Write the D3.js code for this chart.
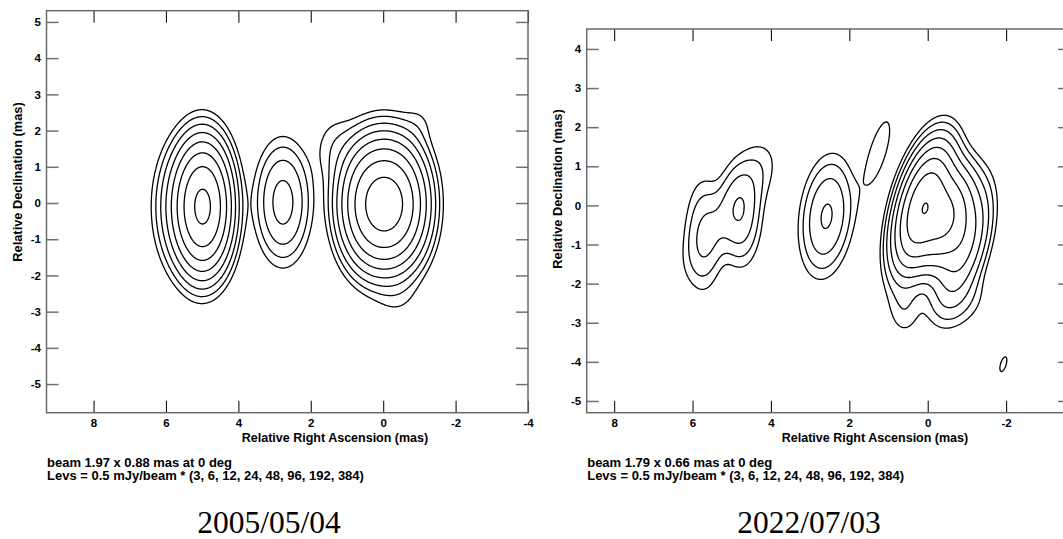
<!DOCTYPE html>
<html>
<head>
<meta charset="utf-8">
<script src="https://cdn.jsdelivr.net/npm/d3@7"></script>
<style>
  body { margin: 0; background: #fff; }
  .lab { font-family: "Liberation Sans", Arial, Helvetica, sans-serif; font-weight: bold; fill: #000; }
  .date { font-family: "Liberation Serif", "DejaVu Serif", serif; fill: #000; }
</style>
</head>
<body>
<svg id="fig" width="1063" height="539"></svg>
<script>
// Contour levels: 0.5 mJy/beam times these multipliers
const levelUnit = 0.5;
const levelMultipliers = [3, 6, 12, 24, 48, 96, 192, 384];

// Epoch 2005/05/04 — Gaussian brightness components
// RA/Dec offsets in mas, peak in mJy/beam, sigmas (minor/major) in mas, PA in deg east of north
const ra2005   = [4.97, 5.35, 2.77, 0.25, -0.30, 1.30, -1.00, -0.40];
const dec2005  = [-0.10, -0.10, 0.02, -0.03, -0.03, 1.50, 2.20, -2.60];
const peak2005 = [210, 22, 15.5, 179, 179, 2.4, 1.2, 1.2];
const sMin2005 = [0.37, 0.45, 0.385, 0.44, 0.44, 0.40, 0.30, 0.45];
const sMaj2005 = [0.84, 0.90, 0.84, 0.80, 0.80, 0.60, 0.40, 0.50];
const pa2005   = [0, 0, 0, 0, 0, 0, 0, 0];

// Epoch 2022/07/03 — Gaussian brightness components
// eastern complex (4), middle knot, northern blob, faint southern spot, core region (8)
const ra2022   = [4.77, 5.05, 5.72, 4.35, 2.58, 1.27, -1.93, 0.22, 0.02, -0.45, -0.90, 0.60, -0.45, -0.90];
const dec2022  = [-0.24, -0.15, -0.75, 1.10, -0.28, 1.37, -4.06, -0.04, -0.04, -0.35, -1.00, -2.60, -2.55, -2.30];
const peak2022 = [9, 5, 5, 0.9, 13, 2.2, 1.55, 90, 99, 100, 30, 2.5, 1.5, 2.0];
const sMin2022 = [0.28, 0.35, 0.28, 0.30, 0.34, 0.23, 0.28, 0.28, 0.30, 0.32, 0.30, 0.28, 0.40, 0.40];
const sMaj2022 = [0.70, 1.00, 0.85, 0.50, 0.78, 0.91, 0.76, 0.78, 0.78, 0.65, 0.80, 0.50, 0.45, 0.45];
const pa2022   = [0, -33, 0, 0, -6.6, -16.6, -17, -15, -15, -15, -15, 0, 0, 0];

// Axis ticks (mas)
const xTicks2005 = [8, 6, 4, 2, 0, -2, -4];
const yTicks2005 = [5, 4, 3, 2, 1, 0, -1, -2, -3, -4, -5];
const xTicks2022 = [8, 6, 4, 2, 0, -2];
const yTicks2022 = [4, 3, 2, 1, 0, -1, -2, -3, -4, -5];

// Caption texts
const beam2005 = "beam 1.97 x 0.88 mas at 0 deg";
const beam2022 = "beam 1.79 x 0.66 mas at 0 deg";
const levsText = "Levs = 0.5 mJy/beam * (" + levelMultipliers.join(", ") + ")";
const xTitle = "Relative Right Ascension (mas)";
const yTitle = "Relative Declination (mas)";

const panels = [
  {
    comps: { ra: ra2005, dec: dec2005, peak: peak2005, sMin: sMin2005, sMaj: sMaj2005, pa: pa2005 },
    xTicks: xTicks2005, yTicks: yTicks2005, beam: beam2005, date: "2005/05/04",
    raDomain: [9.30, -4.0], decDomain: [-5.79, 5.31],
    left: 46.5, right: 528, top: 10.7, bottom: 412.7,
    xTitleX: 335, yTitleX: 17, yTitleY: 182, dateX: 269
  },
  {
    comps: { ra: ra2022, dec: dec2022, peak: peak2022, sMin: sMin2022, sMaj: sMaj2022, pa: pa2022 },
    xTicks: xTicks2022, yTicks: yTicks2022, beam: beam2022, date: "2022/07/03",
    raDomain: [8.70, -3.63], decDomain: [-5.30, 4.51],
    left: 586.7, right: 1070, top: 29, bottom: 412.7,
    xTitleX: 875, yTitleX: 557.5, yTitleY: 189, dateX: 809
  }
];

const svg = d3.select("#fig");
const thresholds = levelMultipliers.map(m => m * levelUnit);

function fieldValue(c, ra, dec) {
  let v = 0;
  for (let k = 0; k < c.ra.length; k++) {
    const dx = ra - c.ra[k], dy = dec - c.dec[k];
    const t = c.pa[k] * Math.PI / 180;
    const a = dx * Math.sin(t) + dy * Math.cos(t);   // along major axis
    const b = dx * Math.cos(t) - dy * Math.sin(t);   // along minor axis
    v += c.peak[k] * Math.exp(-0.5 * (a * a / (c.sMaj[k] * c.sMaj[k]) + b * b / (c.sMin[k] * c.sMin[k])));
  }
  return v;
}

panels.forEach(p => {
  const x = d3.scaleLinear().domain(p.raDomain).range([p.left, p.right]);
  const y = d3.scaleLinear().domain(p.decDomain).range([p.bottom, p.top]);
  const g = svg.append("g");

  // Sample the brightness model on a regular grid and trace contours
  const step = 0.02;
  const ra0 = p.raDomain[0], dec0 = p.decDomain[1];
  const nx = Math.ceil((p.raDomain[0] - p.raDomain[1]) / step) + 1;
  const ny = Math.ceil((p.decDomain[1] - p.decDomain[0]) / step) + 1;
  const values = new Float64Array(nx * ny);
  for (let j = 0; j < ny; j++) {
    const dec = dec0 - j * step;
    for (let i = 0; i < nx; i++) {
      values[j * nx + i] = fieldValue(p.comps, ra0 - i * step, dec);
    }
  }
  const contours = d3.contours().size([nx, ny]).thresholds(thresholds)(values);
  const proj = d3.geoTransform({
    point: function (gx, gy) {
      this.stream.point(x(ra0 - (gx - 0.5) * step), y(dec0 - (gy - 0.5) * step));
    }
  });
  const path = d3.geoPath(proj);

  const clipId = "clip" + Math.round(p.left);
  svg.append("clipPath").attr("id", clipId).append("rect")
    .attr("x", p.left).attr("y", p.top).attr("width", p.right - p.left).attr("height", p.bottom - p.top);

  g.append("g").attr("clip-path", `url(#${clipId})`)
    .selectAll("path").data(contours).join("path")
    .attr("d", path).attr("fill", "none").attr("stroke", "#000")
    .attr("stroke-width", 1.3).attr("stroke-linejoin", "round");

  // Axes with inward ticks on all four sides
  const fmt = d => String(d);
  const axB = g.append("g").attr("transform", `translate(0,${p.bottom})`)
    .call(d3.axisBottom(x).tickValues(p.xTicks).tickSize(-12).tickPadding(6).tickFormat(fmt));
  const axT = g.append("g").attr("transform", `translate(0,${p.top})`)
    .call(d3.axisTop(x).tickValues(p.xTicks).tickSize(-12).tickFormat(""));
  const axL = g.append("g").attr("transform", `translate(${p.left},0)`)
    .call(d3.axisLeft(y).tickValues(p.yTicks).tickSize(-12).tickPadding(5.5).tickFormat(fmt));
  const axR = g.append("g").attr("transform", `translate(${p.right},0)`)
    .call(d3.axisRight(y).tickValues(p.yTicks).tickSize(-12).tickFormat(""));
  [axB, axT].forEach(a => a.selectAll(".tick line").attr("stroke", "#111").attr("stroke-width", 1.1));
  [axL, axR].forEach(a => a.selectAll(".tick line").attr("stroke", "#707070").attr("stroke-width", 1.5));
  [axB, axT, axL, axR].forEach(a => {
    a.select(".domain").remove();
    a.selectAll(".tick text").attr("class", "lab").attr("font-size", 11.5);
    a.attr("font-family", null).attr("font-size", null);
  });

  g.append("rect").attr("x", p.left).attr("y", p.top)
    .attr("width", p.right - p.left).attr("height", p.bottom - p.top)
    .attr("fill", "none").attr("stroke", "#6a6a6a").attr("stroke-width", 1.5);

  g.append("text").attr("class", "lab").attr("font-size", 12.5)
    .attr("x", p.xTitleX).attr("y", 442).attr("text-anchor", "middle").text(xTitle);
  g.append("text").attr("class", "lab").attr("font-size", 12.8)
    .attr("transform", `translate(${p.yTitleX + 4.5},${p.yTitleY}) rotate(-90)`)
    .attr("text-anchor", "middle").text(yTitle);

  g.append("text").attr("class", "lab").attr("font-size", 13)
    .attr("x", p.left + 0.5).attr("y", 467).text(p.beam);
  g.append("text").attr("class", "lab").attr("font-size", 13)
    .attr("x", p.left + 0.5).attr("y", 480).text(levsText);

  g.append("text").attr("class", "date").attr("font-size", 31.5)
    .attr("x", p.dateX).attr("y", 533).attr("text-anchor", "middle").text(p.date);
});
</script>
</body>
</html>
